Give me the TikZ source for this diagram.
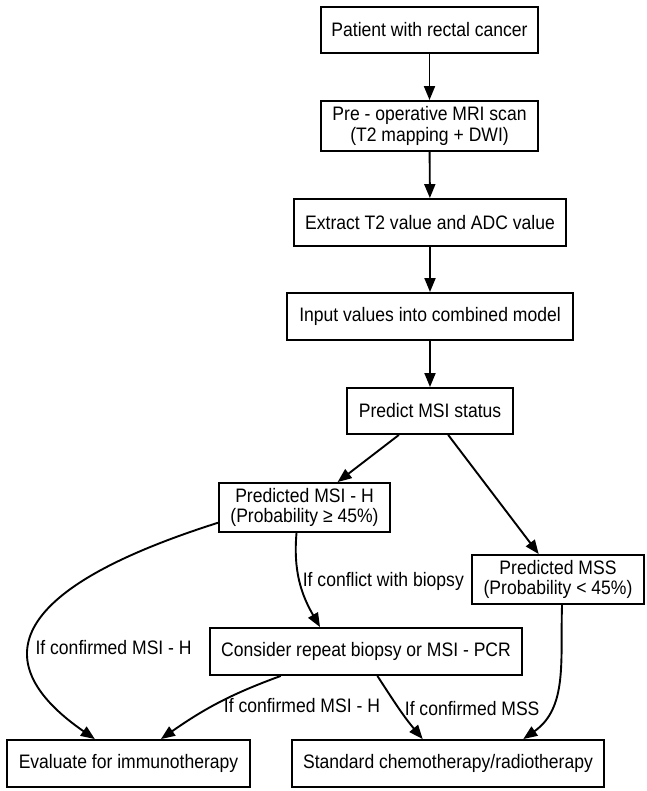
\documentclass[tikz,border=0pt]{standalone}
\usepackage{fontspec}
\setmainfont{Liberation Sans}[FakeStretch=0.9]
\usetikzlibrary{arrows.meta}

\begin{document}
\begin{tikzpicture}[x=1pt, y=-1pt, >={Triangle[length=14pt, width=11pt]},
		box/.style={draw, rectangle, line width=1.9pt, align=center, inner sep=0pt, font=\fontsize{19.5}{20.5}\selectfont},
		flow/.style={->, line width=1.9pt},
		cond/.style={font=\fontsize{19.5}{20.5}\selectfont, inner sep=2pt}]
		\useasboundingbox (0,0) rectangle (646,791);
		\node[box, minimum width=217pt, minimum height=46pt] (patient) at (429.5,30) {Patient with rectal cancer};
		\node[box, minimum width=217pt, minimum height=50pt] (mri) at (429.5,126) {Pre - operative MRI scan\\(T2 mapping + DWI)};
		\node[box, minimum width=272pt, minimum height=47pt] (extract) at (430,222.5) {Extract T2 value and ADC value};
		\node[box, minimum width=286pt, minimum height=47pt] (input) at (430,316.5) {Input values into combined model};
		\node[box, minimum width=166pt, minimum height=46pt] (predict) at (430,411) {Predict MSI status};
		\node[box, minimum width=171pt, minimum height=49pt] (msih) at (304.5,507.5) {Predicted MSI - H\\(Probability ≥ 45\%)};
		\node[box, minimum width=172pt, minimum height=49pt] (mss) at (558,579.5) {Predicted MSS\\(Probability < 45\%)};
		\node[box, minimum width=312pt, minimum height=47pt] (repeat) at (366,651.5) {Consider repeat biopsy or MSI - PCR};
		\node[box, minimum width=243pt, minimum height=47pt] (immuno) at (128.5,763.5) {Evaluate for immunotherapy};
		\node[box, minimum width=312pt, minimum height=47pt] (chemo) at (448,763.5) {Standard chemotherapy/radiotherapy};
		\draw[flow] (patient) -- (mri);
		\draw[flow] (mri) -- (extract);
		\draw[flow] (extract) -- (input);
		\draw[flow] (input) -- (predict);
		\draw[flow] (predict) -- (msih);
		\draw[flow] (predict) -- (mss);
		\draw[flow] ([xshift=-8pt]msih.south) to[out=-95, in=120] node[cond, right, pos=0.5] (conflict) {If conflict with biopsy} (repeat.152);
		\draw[flow] (msih.190) .. controls (-10,595) and (-5,670) .. node[cond, right, pos=0.57, xshift=3pt] (confh) {If confirmed MSI - H} (immuno.144);
		\draw[flow] (repeat.196) to[out=200, in=35] node[cond, right, pos=0.55, xshift=8pt] (confh2) {If confirmed MSI - H} (immuno.37.6);
		\draw[flow] (repeat.-65) to[out=-57, in=130] node[cond, right, pos=0.5, xshift=3pt] (confs) {If confirmed MSS} (chemo.136.8);
		\draw[flow] (mss.-81) to[out=-92, in=35] (chemo.18.8);
	\end{tikzpicture}
\end{document}
